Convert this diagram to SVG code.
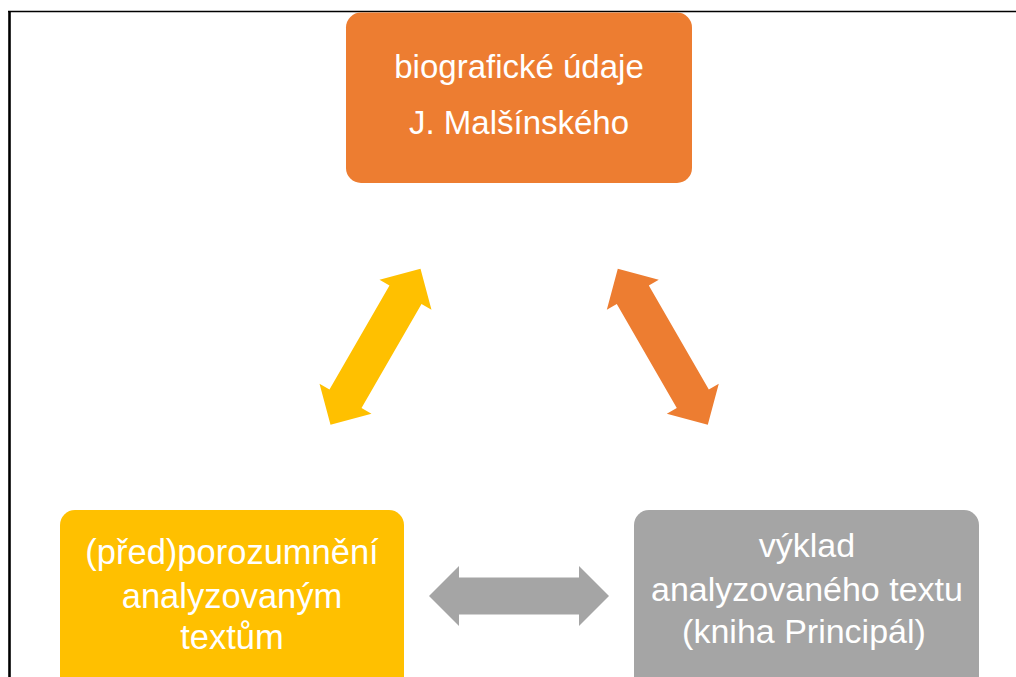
<svg xmlns="http://www.w3.org/2000/svg" width="1016" height="677" viewBox="0 0 1016 677">
<defs>
<style>
.lbl{font-family:"Liberation Sans",Arial,sans-serif;fill:#FFFFFF;text-anchor:middle}
</style>
<path id="dbl" d="M-90,0 L-60,-30 L-60,-18.5 L60,-18.5 L60,-30 L90,0 L60,30 L60,18.5 L-60,18.5 L-60,30 Z"/>
</defs>
<rect width="1016" height="677" fill="#FFFFFF"/>
<g id="frame">
<line x1="8" y1="11.5" x2="1016" y2="11.5" stroke="#000000" stroke-width="1.6"/>
<line x1="9.5" y1="11" x2="9.5" y2="677" stroke="#000000" stroke-width="2.6"/>
</g>
<g id="connectors">
<use href="#dbl" fill="#FFC000" transform="translate(375.5,346.7) rotate(-60)"/>
<use href="#dbl" fill="#ED7D31" transform="translate(662.8,346.7) rotate(60)"/>
<use href="#dbl" fill="#A5A5A5" transform="translate(519,596)"/>
</g>
<g id="node-biografie">
<rect x="346" y="12.5" width="346" height="170.5" rx="15" fill="#ED7D31"/>
<text class="lbl" x="519" y="78" font-size="33">biografické údaje</text>
<text class="lbl" x="519" y="134" font-size="33">J. Malšínského</text>
</g>
<g id="node-porozumneni">
<rect x="60" y="510" width="344" height="190" rx="15" fill="#FFC000"/>
<text class="lbl" x="232" y="564" font-size="34.5">(před)porozumnění</text>
<text class="lbl" x="232" y="608" font-size="34.5">analyzovaným</text>
<text class="lbl" x="232" y="649" font-size="34.5">textům</text>
</g>
<g id="node-vyklad">
<rect x="634" y="510" width="345" height="190" rx="15" fill="#A5A5A5"/>
<text class="lbl" x="807" y="557" font-size="34">výklad</text>
<text class="lbl" x="807" y="601" font-size="34">analyzovaného textu</text>
<text class="lbl" x="804" y="643" font-size="34">(kniha Principál)</text>
</g>
</svg>
